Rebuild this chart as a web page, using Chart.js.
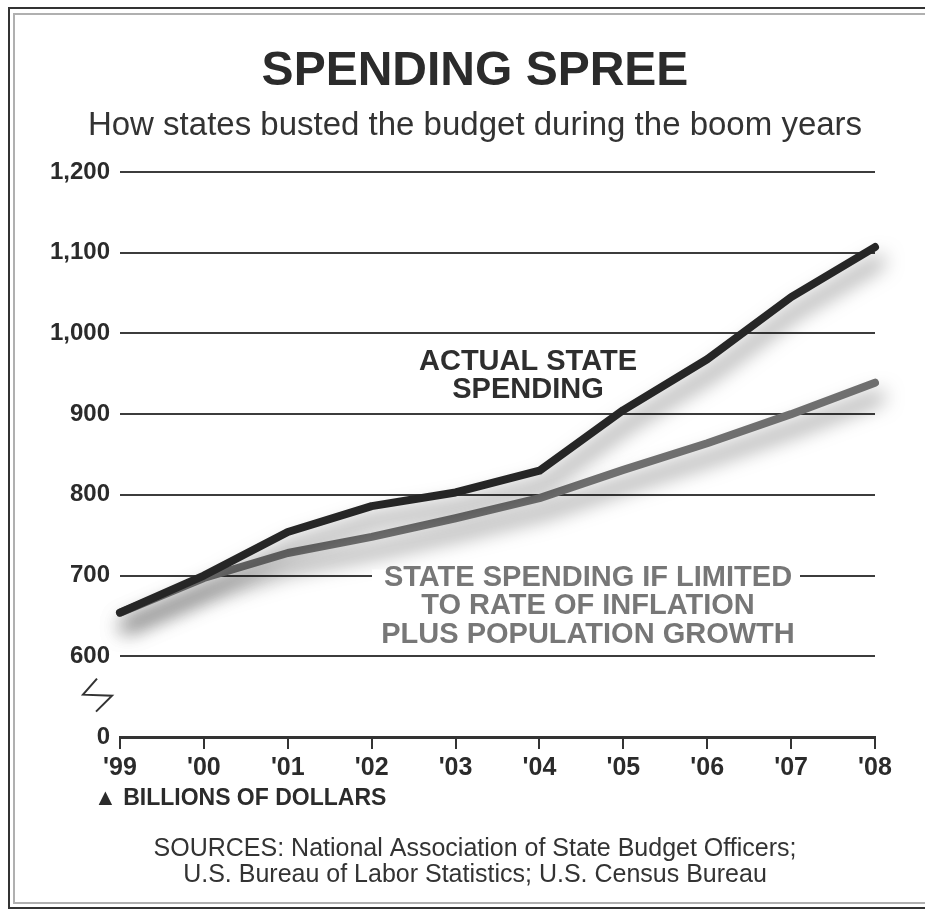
<!DOCTYPE html>
<html>
<head>
<meta charset="utf-8">
<title>Spending spree</title>
<script src="https://cdn.jsdelivr.net/npm/chart.js@4.4.1/dist/chart.umd.min.js"></script>
<style>
  html, body { margin: 0; padding: 0; background: #fff; }
  #wrap { width: 925px; height: 911px; }
</style>
</head>
<body>
<div id="wrap"><canvas id="grafico" width="925" height="911"></canvas></div>
<script>
// años y valores (miles de millones de dólares)
var years = ["'99", "'00", "'01", "'02", "'03", "'04", "'05", "'06", "'07", "'08"];
var actualSpending = [654, 700, 754, 786, 803, 830, 905, 968, 1045, 1107];
var limitedSpending = [654, 697, 728, 748, 771, 796, 831, 864, 900, 939];
var yTicks = [500, 600, 700, 800, 900, 1000, 1100, 1200]; // 500 = "0" (eje cortado)

var FONT = '"Liberation Sans", Arial, Helvetica, sans-serif';

// sombra bajo las líneas
var sombra = {
    id: "sombra",
    beforeDatasetDraw: function (chart) {
        var ctx = chart.ctx;
        ctx.save();
        ctx.shadowColor = "rgba(0,0,0,0.55)";
        ctx.shadowBlur = 20;
        ctx.shadowOffsetX = 5;
        ctx.shadowOffsetY = 14;
    },
    afterDatasetDraw: function (chart) {
        chart.ctx.restore();
    }
};

// marco, títulos, fuentes
var decoracion = {
    id: "decoracion",
    beforeDraw: function (chart) {
        var ctx = chart.ctx;
        ctx.save();
        ctx.fillStyle = "#fff";
        ctx.fillRect(0, 0, chart.width, chart.height);
        ctx.strokeStyle = "#333";
        ctx.lineWidth = 2;
        ctx.strokeRect(9, 8, 940, 900);
        ctx.strokeStyle = "#b0b0b0";
        ctx.strokeRect(14, 14, 930, 889);

        ctx.textAlign = "center";
        ctx.textBaseline = "middle";
        ctx.fillStyle = "#2b2b2b";
        ctx.font = "bold 48px " + FONT;
        ctx.fillText("SPENDING SPREE", 475, 72);
        ctx.font = "33px " + FONT;
        ctx.fillStyle = "#333";
        ctx.fillText("How states busted the budget during the boom years", 475, 126);

        ctx.font = "25px " + FONT;
        ctx.fillText("SOURCES: National Association of State Budget Officers;", 475, 849);
        ctx.fillText("U.S. Bureau of Labor Statistics; U.S. Census Bureau", 475, 875);
        ctx.restore();
    },
    afterDraw: function (chart) {
        var ctx = chart.ctx;
        var ys = chart.scales.y;
        ctx.save();

        // símbolo de corte del eje
        var yMid = (ys.getPixelForValue(500) + ys.getPixelForValue(600)) / 2;
        ctx.strokeStyle = "#333";
        ctx.lineWidth = 2;
        ctx.beginPath();
        ctx.moveTo(97, yMid - 18);
        ctx.lineTo(83, yMid - 2);
        ctx.lineTo(112, yMid - 1);
        ctx.lineTo(96, yMid + 15);
        ctx.stroke();

        // unidad
        ctx.fillStyle = "#2b2b2b";
        ctx.font = "bold 23px " + FONT;
        ctx.textAlign = "left";
        ctx.textBaseline = "middle";
        ctx.fillText("\u25B2 BILLIONS OF DOLLARS", 94, 799);

        // etiqueta serie real
        ctx.textAlign = "center";
        ctx.font = "bold 29px " + FONT;
        ctx.fillStyle = "#2e2e2e";
        var cx = 528;
        ctx.fillText("ACTUAL STATE", cx, ys.getPixelForValue(965));
        ctx.fillText("SPENDING", cx, ys.getPixelForValue(930));

        // etiqueta serie limitada (tapa la rejilla de 700)
        var y700 = ys.getPixelForValue(700);
        ctx.fillStyle = "#fff";
        ctx.fillRect(372, y700 - 6, 428, 12);
        ctx.fillStyle = "#777";
        var gx = 588;
        ctx.fillText("STATE SPENDING IF LIMITED", gx, y700 + 2);
        ctx.fillText("TO RATE OF INFLATION", gx, y700 + 30);
        ctx.fillText("PLUS POPULATION GROWTH", gx, y700 + 59);
        ctx.restore();
    }
};

var ctx = document.getElementById("grafico").getContext("2d");
var chart = new Chart(ctx, {
    type: "line",
    data: {
        labels: years,
        datasets: [
            {
                label: "Actual state spending",
                data: actualSpending,
                borderColor: "#262626",
                borderWidth: 8,
                borderCapStyle: "round",
                borderJoinStyle: "round",
                pointRadius: 0,
                tension: 0,
                clip: false,
                order: 0
            },
            {
                label: "State spending if limited to rate of inflation plus population growth",
                data: limitedSpending,
                borderColor: "#6f6f6f",
                borderWidth: 8,
                borderCapStyle: "round",
                borderJoinStyle: "round",
                pointRadius: 0,
                tension: 0,
                clip: false,
                order: 1
            }
        ]
    },
    options: {
        responsive: false,
        animation: false,
        layout: { padding: { left: 0, right: 50, top: 172, bottom: 0 } },
        plugins: {
            legend: { display: false },
            tooltip: { enabled: false }
        },
        scales: {
            x: {
                offset: false,
                afterFit: function (scale) { scale.height = 174; },
                grid: {
                    drawOnChartArea: false,
                    drawTicks: true,
                    tickLength: 12,
                    color: "#333",
                    lineWidth: 2
                },
                border: { display: true, color: "#333", width: 3 },
                ticks: {
                    color: "#2b2b2b",
                    font: { family: FONT, size: 25, weight: "bold" },
                    padding: 4,
                    maxRotation: 0,
                    autoSkip: false
                }
            },
            y: {
                min: yTicks[0],
                max: yTicks[yTicks.length - 1],
                afterFit: function (scale) { scale.width = 120; },
                afterBuildTicks: function (scale) {
                    scale.ticks = yTicks.map(function (v) { return { value: v }; });
                },
                grid: {
                    drawTicks: false,
                    color: function (c) { return c.tick && c.tick.value === 500 ? "rgba(0,0,0,0)" : "#3c3c3c"; },
                    lineWidth: 2
                },
                border: { display: false },
                ticks: {
                    color: "#2b2b2b",
                    font: { family: FONT, size: 24, weight: "bold" },
                    padding: 10,
                    callback: function (v) {
                        return v === 500 ? "0" : v.toLocaleString("en-US");
                    }
                }
            }
        }
    },
    plugins: [decoracion, sombra]
});
</script>
</body>
</html>
